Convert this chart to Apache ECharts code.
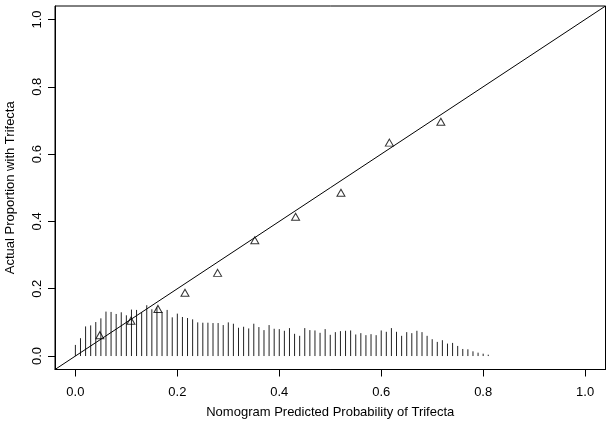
<!DOCTYPE html>
<html>
<head>
<meta charset="utf-8">
<script src="https://cdn.jsdelivr.net/npm/echarts@6/dist/echarts.min.js"></script>
<style>html,body{margin:0;padding:0;background:#fff}#c{width:612px;height:431px}</style>
</head>
<body>
<div id="c"></div>
<script>
// Calibration points (predicted, observed)
var predicted = [0.048, 0.109, 0.162, 0.215, 0.279, 0.352, 0.432, 0.521, 0.616, 0.717];
var observed  = [0.062, 0.105, 0.140, 0.188, 0.247, 0.344, 0.414, 0.485, 0.634, 0.696];

// Distribution of predicted risk (spike histogram)
var spikeX = [0.00,0.01,0.02,0.03,0.04,0.05,0.06,0.07,0.08,0.09,
              0.10,0.11,0.12,0.13,0.14,0.15,0.16,0.17,0.18,0.19,
              0.20,0.21,0.22,0.23,0.24,0.25,0.26,0.27,0.28,0.29,
              0.30,0.31,0.32,0.33,0.34,0.35,0.36,0.37,0.38,0.39,
              0.40,0.41,0.42,0.43,0.44,0.45,0.46,0.47,0.48,0.49,
              0.50,0.51,0.52,0.53,0.54,0.55,0.56,0.57,0.58,0.59,
              0.60,0.61,0.62,0.63,0.64,0.65,0.66,0.67,0.68,0.69,
              0.70,0.71,0.72,0.73,0.74,0.75,0.76,0.77,0.78,0.79,
              0.80,0.81];
var spikeH = [0.033,0.053,0.088,0.091,0.101,0.112,0.132,0.131,0.125,0.130,
              0.121,0.138,0.137,0.130,0.151,0.139,0.144,0.131,0.137,0.115,
              0.126,0.116,0.113,0.109,0.100,0.099,0.099,0.098,0.098,0.092,
              0.100,0.096,0.084,0.087,0.082,0.096,0.086,0.077,0.092,0.081,
              0.080,0.075,0.083,0.066,0.060,0.083,0.077,0.076,0.069,0.080,
              0.063,0.071,0.074,0.075,0.076,0.064,0.068,0.062,0.065,0.062,
              0.076,0.072,0.083,0.072,0.060,0.071,0.068,0.075,0.071,0.060,
              0.050,0.042,0.047,0.037,0.039,0.030,0.021,0.020,0.014,0.010,
              0.007,0.004];

// Ideal line ends and tick values
var idealLine = [[-0.04, -0.04], [1.04, 1.04]];
var tickValues = [0, 0.2, 0.4, 0.6, 0.8, 1.0];
var xTitle = 'Nomogram Predicted Probability of Trifecta';
var yTitle = 'Actual Proportion with Trifecta';

var font = 'Liberation Sans, Arial, Helvetica, sans-serif';
var chart = echarts.init(document.getElementById('c'), null, {renderer: 'canvas'});

function axisCommon(name, isY) {
  return {
    type: 'value', min: -0.04, max: 1.04,
    name: name, nameLocation: 'middle',
    nameGap: isY ? 38 : 36,
    nameTextStyle: {fontFamily: font, fontSize: 13, color: '#000'},
    axisLine: {show: true, onZero: false, lineStyle: {color: '#000', width: 1}},
    axisTick: {show: true, length: 7, inside: false, customValues: tickValues, lineStyle: {color: '#000'}},
    axisLabel: {
      customValues: tickValues, fontFamily: font, fontSize: 13, color: '#000',
      rotate: isY ? 90 : 0, margin: isY ? 11 : 16,
      formatter: function (v) { return v.toFixed(1); }
    },
    splitLine: {show: false}
  };
}

var spikeData = spikeX.map(function (x, i) { return [x, spikeH[i]]; });
var pts = predicted.map(function (x, i) { return [x, observed[i]]; });

chart.setOption({
  animation: false,
  backgroundColor: '#fff',
  grid: {left: 55, right: 6.5, top: 6, bottom: 61.5, containLabel: false, outerBoundsMode: 'none',
         show: true, borderColor: '#000', borderWidth: 1, backgroundColor: 'transparent'},
  xAxis: axisCommon(xTitle, false),
  yAxis: axisCommon(yTitle, true),
  series: [
    {
      type: 'custom',
      data: spikeData,
      renderItem: function (params, api) {
        var p0 = api.coord([api.value(0), 0]);
        var p1 = api.coord([api.value(0), api.value(1)]);
        return {type: 'line', shape: {x1: p0[0], y1: p0[1], x2: p1[0], y2: p1[1]},
                style: {stroke: '#222', lineWidth: 1}};
      },
      silent: true, z: 2
    },
    {
      type: 'line', data: idealLine, symbol: 'none', silent: true,
      lineStyle: {color: '#000', width: 1}, z: 3
    },
    {
      type: 'scatter', data: pts, symbol: 'triangle', symbolSize: [8, 7],
      itemStyle: {color: 'rgba(255,255,255,0)', borderColor: '#000', borderWidth: 1}, z: 4
    }
  ]
});
</script>
</body>
</html>
